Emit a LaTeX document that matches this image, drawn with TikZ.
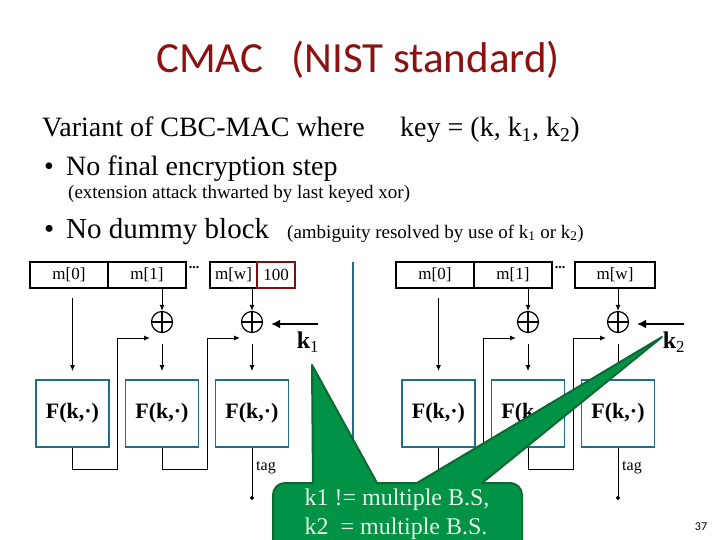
\documentclass[tikz,border=0pt]{standalone}
\usepackage{fontspec}
\setmainfont{Liberation Serif}
\newfontfamily\slidesans{Carlito}
\usetikzlibrary{arrows.meta,calc}

\definecolor{titlered}{RGB}{140,18,18}
\definecolor{prfblue}{RGB}{33,110,140}
\definecolor{padred}{RGB}{125,15,15}
\definecolor{callgreen}{RGB}{0,146,69}
\definecolor{callborder}{RGB}{12,105,50}
\definecolor{calltext}{RGB}{228,245,232}

\tikzset{
  msgbox/.style={draw,line width=1.5pt,minimum height=26pt,inner sep=0pt,font=\fontsize{17}{19}\selectfont},
  prfbox/.style={draw=prfblue,line width=1.8pt,minimum width=73pt,minimum height=67pt,inner sep=0pt,font=\fontsize{22}{24}\selectfont\bfseries},
  xorop/.style={circle,draw,line width=1.2pt,minimum size=21pt,inner sep=0pt,
    path picture={\draw[line width=1.2pt] (path picture bounding box.north) -- (path picture bounding box.south)
      (path picture bounding box.west) -- (path picture bounding box.east);}},
  wire/.style={line width=1pt,-{Latex[length=6pt,width=5pt]}},
  keyarrow/.style={line width=2.5pt,-{Latex[length=9pt,width=9pt]}},
  callout/.style={fill=callgreen,draw=callborder,line width=2pt,line join=round},
}

\begin{document}
\begin{tikzpicture}[x=1pt,y=-1pt]
\useasboundingbox[fill=white] (0,0) rectangle (720,540);

% Title
\node[font=\slidesans\fontsize{43}{47}\selectfont,text=titlered,anchor=base] (title) at (358,73) {CMAC\hspace{28pt}(NIST standard)};

% Text lines
\node[anchor=base west,inner sep=0pt,font=\fontsize{28}{30}\selectfont] (variant) at (42,137) {Variant of CBC-MAC where};
\node[anchor=base west,inner sep=0pt,font=\fontsize{28}{30}\selectfont] (key) at (400,137) {key = (k, k\textsubscript{1}, k\textsubscript{2})};
\node[anchor=base west,inner sep=0pt,font=\fontsize{28}{30}\selectfont] (bullet1) at (44,176) {\makebox[22pt][l]{\textbullet}No final encryption step};
\node[anchor=base west,inner sep=0pt,font=\fontsize{19}{21}\selectfont] (extension) at (68,199) {(extension attack thwarted by last keyed xor)};
\node[anchor=base west,inner sep=0pt,font=\fontsize{29}{31}\selectfont] (bullet2) at (44,238) {\makebox[22pt][l]{\textbullet}No dummy block};
\node[anchor=base west,inner sep=0pt,font=\fontsize{19}{21}\selectfont] (ambiguity) at (287,238) {(ambiguity resolved by use of k\textsubscript{1} or k\textsubscript{2})};

% Last message blocks
\node[msgbox,minimum width=47pt] (mwL) at (233.5,275) {m[w]};
\node[msgbox,draw=padred,minimum width=38pt] (padL) at (276,275) {100};
\node[msgbox,minimum width=80pt] (mwR) at (615,275) {m[w]};

% Both chains
\foreach \side/\dx/\kn in {L/0/1,R/366/2}{
  \node[msgbox,minimum width=78pt] (m0\side) at (69+\dx,275) {m[0]};
  \node[msgbox,minimum width=78pt] (m1\side) at (147+\dx,275) {m[1]};
  \node[anchor=base,inner sep=0pt,font=\fontsize{14}{14}\selectfont\bfseries] (dots\side) at (194+\dx,268) {...};

  \node[xorop] (x1\side) at (162+\dx,322) {};
  \node[xorop] (x2\side) at (252+\dx,322) {};

  \node[prfbox] (F1\side) at (72.5+\dx,413.5) {F(k,·)};
  \node[prfbox] (F2\side) at (162+\dx,413.5) {F(k,·)};
  \node[prfbox] (F3\side) at (252+\dx,413.5) {F(k,·)};

  \draw[wire,shorten <=9pt,shorten >=8pt] (F1\side |- m0\side.south) -- (F1\side.north);
  \draw[wire] (x1\side |- m1\side.south) -- (x1\side.north);
  \draw[wire] (x2\side |- m1\side.south) -- (x2\side.north);
  \draw[wire,shorten <=11pt,shorten >=8pt] (x1\side.south) -- (F2\side.north);
  \draw[wire,shorten <=11pt,shorten >=8pt] (x2\side.south) -- (F3\side.north);

  % chaining
  \coordinate (fb1\side) at (117+\dx,338);
  \coordinate (fb2\side) at (207+\dx,338);
  \draw[wire] (F1\side.south) -- ++(0,22) -| (fb1\side) -- ([xshift=-12pt,yshift=-16pt]x1\side.center);
  \draw[wire] (F2\side.south) -- ++(0,22) -| (fb2\side) -- ([xshift=-12pt,yshift=-16pt]x2\side.center);

  % output
  \draw[line width=1pt,-{Circle[length=4pt]}] (F3\side.south) -- ++(0,52) coordinate (tagend\side);
  \node[anchor=west,inner sep=1pt,font=\fontsize{16}{18}\selectfont] (tag\side) at (255+\dx,468) {tag};

  % key
  \coordinate (kin\side) at (318+\dx,324);
  \draw[keyarrow,shorten >=8pt] (kin\side) -- (x2\side.east |- kin\side);
  \node[inner sep=0pt,font=\fontsize{24}{26}\selectfont] (k\side) at (308+\dx,342) {\textbf{k}\textsubscript{\kn}};
}

% Separator
\draw[prfblue,line width=2pt] (353,262) -- (353,510);

% Callout
\draw[callout] (273,560) -- (273,495) to[out=90,in=180] (285,483) -- (313,483) -- (312,365) -- (377,483)
  -- (417,483) -- (662,337) -- (482,483) -- (510,483) to[out=0,in=90] (522,495) -- (522,560);
\node[text=calltext,align=left,font=\fontsize{24}{29}\selectfont] (note) at (397,514) {k1 != multiple B.S,\\k2 \ = multiple B.S.};

% Page number
\node[font=\slidesans\fontsize{12}{12}\selectfont] (pagenum) at (701,527) {37};

\end{tikzpicture}
\end{document}
